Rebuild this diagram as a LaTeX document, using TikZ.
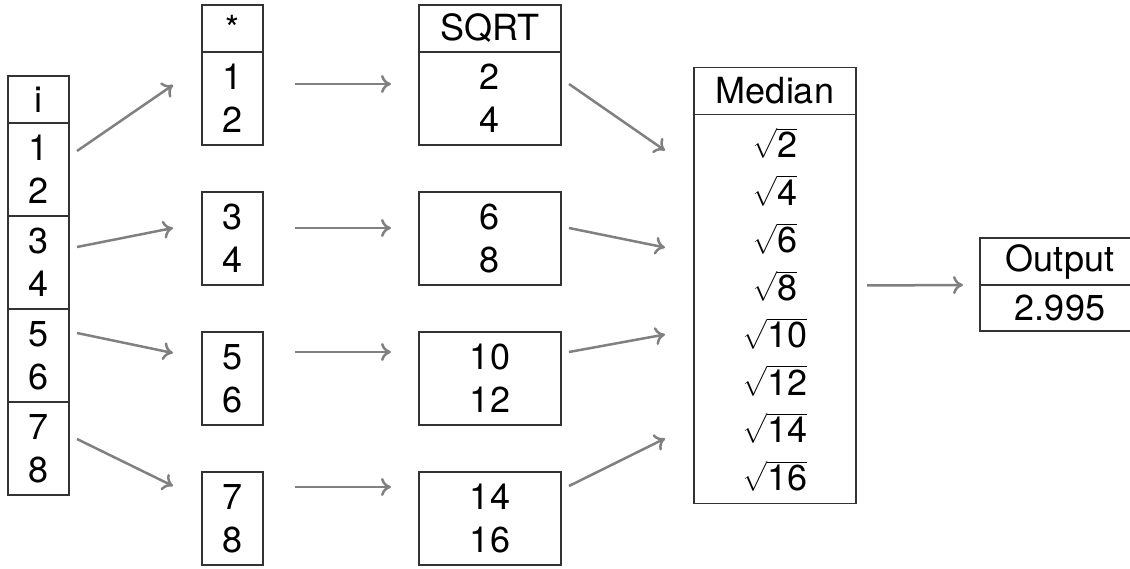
\documentclass[tikz,border=0pt]{standalone}
\usepackage{amsmath}
\usepackage{fontspec}
\setmainfont{TeX Gyre Heros}
\usepackage{tikz}
\usetikzlibrary{positioning,arrows.meta}

\newcommand{\sqrtcell}[1]{\(\sqrt{\text{#1}}\)}

\begin{document}
\begin{tikzpicture}[x=1pt, y=-1pt, node distance=47pt,
        cell/.style={draw=black!80, line width=1.6pt, rectangle, inner sep=0pt, outer sep=0pt, align=center, font=\fontsize{36}{43}\selectfont},
        head/.style={cell, minimum height=47pt, font=\fontsize{36}{40}\selectfont},
        pair/.style={cell, minimum height=93pt},
        link/.style={->, draw=black!50, line width=2.5pt},
        >={To[length=10pt,width=18pt]}
    ]
        \useasboundingbox (0,0) rectangle (1130,569);

        % input column
        \node [head, minimum width=61pt] (hI) at (38.5,99.5) {i};
        \node [pair, minimum width=61pt, below=0pt of hI] (in1) {1\\2};
        \node [pair, minimum width=61pt, below=0pt of in1] (in2) {3\\4};
        \node [pair, minimum width=61pt, below=0pt of in2] (in3) {5\\6};
        \node [pair, minimum width=61pt, below=0pt of in3] (in4) {7\\8};

        % multiply
        \node [head, minimum width=61pt] (hS) at (232.5,28.5) {*};
        \node [pair, minimum width=61pt, below=0pt of hS] (st1) {1\\2};
        \node [pair, minimum width=61pt, below=of st1] (st2) {3\\4};
        \node [pair, minimum width=61pt, below=of st2] (st3) {5\\6};
        \node [pair, minimum width=61pt, below=of st3] (st4) {7\\8};

        % square root
        \node [head, minimum width=142pt, right=156pt of hS] (hQ) {SQRT};
        \node [pair, minimum width=142pt, below=0pt of hQ] (sq1) {2\\4};
        \node [pair, minimum width=142pt, below=of sq1] (sq2) {6\\8};
        \node [pair, minimum width=142pt, below=of sq2] (sq3) {10\\12};
        \node [pair, minimum width=142pt, below=of sq3] (sq4) {14\\16};

        % median and output
        \node [head, minimum width=162pt] (hM) at (775,91) {Median};
        \node [cell, minimum width=162pt, minimum height=389pt, below=0pt of hM,
            font=\fontsize{36}{47.5}\selectfont, text depth=0pt] (md)
            {\sqrtcell{2}\\\sqrtcell{4}\\\sqrtcell{6}\\\sqrtcell{8}\\\sqrtcell{10}\\\sqrtcell{12}\\\sqrtcell{14}\\\sqrtcell{16}};
        \node [head, minimum width=160pt] (hO) at (1060,261.5) {Output};
        \node [cell, minimum width=160pt, minimum height=46pt, below=0pt of hO] (out) {2.995};

        \draw [link] ([shift={(8,-18.5)}]in1.east) -- ([shift={(-29,-13.5)}]st1.west);
        \draw [link] ([shift={(8,-15.5)}]in2.east) -- ([shift={(-29,-10.5)}]st2.west);
        \draw [link] ([shift={(8,-22.5)}]in3.east) -- ([shift={(-29,-25.5)}]st3.west);
        \draw [link] ([shift={(8,-9.5)}]in4.east) -- ([shift={(-29,-32.5)}]st4.west);

        \draw [link] ([shift={(32,-14.5)}]st1.east) -- ([shift={(-28,-14.5)}]sq1.west);
        \draw [link] ([shift={(32,-10.5)}]st2.east) -- ([shift={(-28,-10.5)}]sq2.west);
        \draw [link] ([shift={(32,-26.5)}]st3.east) -- ([shift={(-28,-26.5)}]sq3.west);
        \draw [link] ([shift={(32,-31.5)}]st4.east) -- ([shift={(-28,-31.5)}]sq4.west);

        \draw [link] ([shift={(8,-14.5)}]sq1.east) -- ([shift={(-29,-158.5)}]md.west);
        \draw [link] ([shift={(8,-10.5)}]sq2.east) -- ([shift={(-29,-61.5)}]md.west);
        \draw [link] ([shift={(8,-26.5)}]sq3.east) -- ([shift={(-29,25.5)}]md.west);
        \draw [link] ([shift={(8,-32.5)}]sq4.east) -- ([shift={(-29,129.5)}]md.west);

        \draw [link] ([shift={(11,-23.5)}]md.east) -- ([shift={(-17,0)}]hO.south west);
    \end{tikzpicture}
\end{document}
